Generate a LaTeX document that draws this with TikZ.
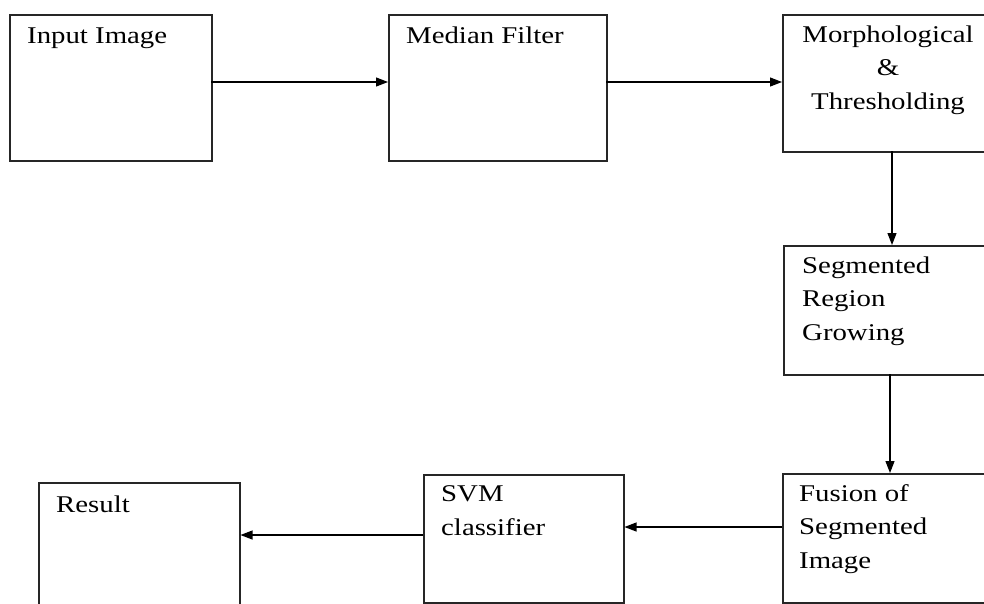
\documentclass[tikz,border=0pt]{standalone}
\usepackage{fontspec}
\setmainfont[FakeStretch=1.2]{Liberation Serif}
\usetikzlibrary{arrows.meta}
\begin{document}
\begin{tikzpicture}[x=1pt,y=-1pt,
  box/.style={draw=black!85,line width=1.5pt,rectangle,inner sep=0pt,anchor=north west},
  lbl/.style={inner sep=0pt,anchor=base west,align=left,font=\fontsize{24}{33.5}\selectfont},
  conn/.style={draw=black,line width=1.1pt,-{Triangle[length=12pt,width=9pt]}}]
\useasboundingbox[fill=white] (0,0) rectangle (984,603);
\begin{scope}
\clip (0,0) rectangle (984,603);
\node[box,minimum width=202pt,minimum height=146pt] (b1) at (9,14) {};
\node[box,minimum width=218pt,minimum height=146pt] (b2) at (388,14) {};
\node[box,minimum width=210pt,minimum height=137pt] (b3) at (782,14) {};
\node[box,minimum width=210pt,minimum height=129pt] (b4) at (783,245) {};
\node[box,minimum width=210pt,minimum height=129pt] (b5) at (782,473) {};
\node[box,minimum width=200pt,minimum height=128pt] (b6) at (423,474) {};
\node[box,minimum width=201pt,minimum height=140pt] (b7) at (38,482) {};
\end{scope}
\node[lbl] (t1) at (27,43) {Input Image};
\node[lbl] (t2) at (406,43) {Median Filter};
\node[lbl,align=center,anchor=base] (t3) at (888,109) {Morphological\\\&\\Thresholding};
\node[lbl] (t4) at (802,340) {Segmented\\Region\\Growing};
\node[lbl] (t5) at (799,568) {Fusion of\\Segmented\\Image};
\node[lbl] (t6) at (441,535) {SVM\\classifier};
\node[lbl] (t7) at (56,512) {Result};
\coordinate (c1) at (211,82);
\coordinate (c2) at (606,82);
\draw[conn] (c1) -- (c1 -| b2.west);
\draw[conn] (c2) -- (c2 -| b3.west);
\coordinate (c3) at (892,151);
\draw[conn] (c3) -- (c3 |- b4.north);
\coordinate (c4) at (890,374);
\draw[conn] (c4) -- (c4 |- b5.north);
\coordinate (c5) at (782,527);
\draw[conn] (c5) -- (c5 -| b6.east);
\coordinate (c6) at (423,535);
\draw[conn] (c6) -- (c6 -| b7.east);
\end{tikzpicture}
\end{document}
